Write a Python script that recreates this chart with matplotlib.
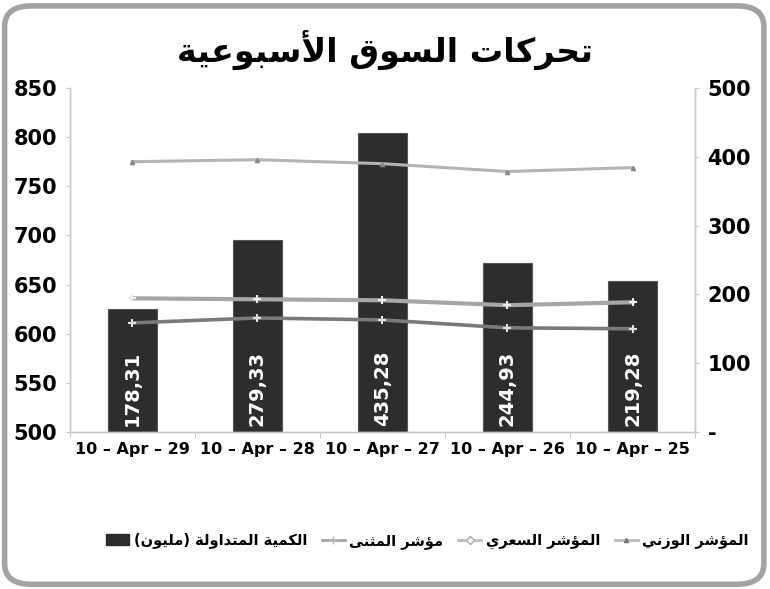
import matplotlib
matplotlib.use("Agg")
import matplotlib.pyplot as plt
import numpy as np
from matplotlib.patches import FancyBboxPatch
from matplotlib.lines import Line2D
from matplotlib.patches import Patch

#%% data

dates = ["10 – Apr – 29", "10 – Apr – 28", "10 – Apr – 27", "10 – Apr – 26", "10 – Apr – 25"]
volume = [178.31, 279.33, 435.28, 244.93, 219.28]
volume_labels = ["178,31", "279,33", "435,28", "244,93", "219,28"]
weighted_idx = [775, 777, 773, 765, 769]
price_idx = [636, 635, 634, 629, 632]
muthanna_idx = [611, 616, 614, 606, 605]

title = "تحركات السوق الأسبوعية"
lbl_weighted = "المؤشر الوزني"
lbl_price = "المؤشر السعري"
lbl_muthanna = "مؤشر المثنى"
lbl_volume = "الكمية المتداولة (مليون)"

left_ticks = [500, 550, 600, 650, 700, 750, 800, 850]
right_ticks = [0, 100, 200, 300, 400, 500]
right_ticklabels = ["-", "100", "200", "300", "400", "500"]

#%% tiny arabic shaper (no reshaper libs in the sandbox)

# letter: (base code of presentation form, number of forms)
FORMS = {
    'ء': (0xFE80, 1), 'آ': (0xFE81, 2), 'أ': (0xFE83, 2), 'ؤ': (0xFE85, 2),
    'إ': (0xFE87, 2), 'ئ': (0xFE89, 4), 'ا': (0xFE8D, 2), 'ب': (0xFE8F, 4),
    'ة': (0xFE93, 2), 'ت': (0xFE95, 4), 'ث': (0xFE99, 4), 'ج': (0xFE9D, 4),
    'ح': (0xFEA1, 4), 'خ': (0xFEA5, 4), 'د': (0xFEA9, 2), 'ذ': (0xFEAB, 2),
    'ر': (0xFEAD, 2), 'ز': (0xFEAF, 2), 'س': (0xFEB1, 4), 'ش': (0xFEB5, 4),
    'ص': (0xFEB9, 4), 'ض': (0xFEBD, 4), 'ط': (0xFEC1, 4), 'ظ': (0xFEC5, 4),
    'ع': (0xFEC9, 4), 'غ': (0xFECD, 4), 'ف': (0xFED1, 4), 'ق': (0xFED5, 4),
    'ك': (0xFED9, 4), 'ل': (0xFEDD, 4), 'م': (0xFEE1, 4), 'ن': (0xFEE5, 4),
    'ه': (0xFEE9, 4), 'و': (0xFEED, 2), 'ى': (0xFEEF, 2), 'ي': (0xFEF1, 4),
}
LAM_ALEF = {'ا': 0xFEFB, 'أ': 0xFEF7, 'آ': 0xFEF5, 'إ': 0xFEF9}


def shape(text):
    # merge lam + alef into ligature tokens
    toks = []
    i = 0
    while i < len(text):
        c = text[i]
        if c == 'ل' and i + 1 < len(text) and text[i + 1] in LAM_ALEF:
            toks.append(('LA', LAM_ALEF[text[i + 1]]))
            i += 2
        else:
            toks.append(('C', c))
            i += 1

    def nforms(t):
        if t[0] == 'LA':
            return 2
        return FORMS.get(t[1], (0, 0))[1]

    out = []
    for k, t in enumerate(toks):
        n = nforms(t)
        if n == 0:
            out.append(t[1])
            continue
        prev_join = k > 0 and nforms(toks[k - 1]) == 4 and n > 1
        next_join = n == 4 and k + 1 < len(toks) and nforms(toks[k + 1]) > 1
        base = t[1] if t[0] == 'LA' else FORMS[t[1]][0]
        if n == 1:
            out.append(chr(base))
        elif prev_join and next_join:
            out.append(chr(base + 3))
        elif prev_join:
            out.append(chr(base + 1))
        elif next_join:
            out.append(chr(base + 2))
        else:
            out.append(chr(base))
    vis = ''.join(out)[::-1]
    return vis.translate(str.maketrans('()', ')('))


#%% plot

plt.rcParams.update({'font.family': ['DejaVu Sans'], 'font.weight': 'bold'})

fig = plt.figure(figsize=(7.7, 5.89), dpi=100)
fig.patch.set_facecolor('white')

frame = FancyBboxPatch((0.006, 0.008), 0.986, 0.982, transform=fig.transFigure,
                       boxstyle="round,pad=0,rounding_size=0.035",
                       facecolor='white', edgecolor='#a3a3a3', linewidth=4,
                       zorder=-5)
fig.patches.append(frame)

fig.text(0.5, 0.915, shape(title), ha='center', va='center', fontsize=24,
         fontweight='bold', color='black')

ax = fig.add_axes([0.0909, 0.2666, 0.8117, 0.584])
ax2 = ax.twinx()

x = np.arange(len(dates))

# bars on the right axis
bars = ax2.bar(x, volume, width=0.39, color='#2d2d2d', edgecolor='#555555',
               linewidth=0.8, zorder=1)
for xi, lab in zip(x, volume_labels):
    ax2.text(xi, 8, lab, rotation=90, ha='center', va='bottom', color='white',
             fontsize=14, fontweight='bold', zorder=3)
ax2.set_ylim(0, 500)
ax2.set_yticks(right_ticks)
ax2.set_yticklabels(right_ticklabels, fontsize=15, fontweight='bold')

# index lines on the left axis, drawn in front of the bars
ax.set_zorder(ax2.get_zorder() + 1)
ax.patch.set_visible(False)
ax.plot(x, weighted_idx, color='#b4b4b4', lw=2.2, marker='^', ms=3,
        mfc='#888888', mec='#888888', label=shape(lbl_weighted))
ax.plot(x, price_idx, color='#a6a6a6', lw=3, marker='+', ms=6, mew=1.5,
        mec='#eeeeee', label=shape(lbl_price))
ax.plot(x, muthanna_idx, color='#7a7a7a', lw=2.6, marker='+', ms=6, mew=1.5,
        mec='#e0e0e0', label=shape(lbl_muthanna))
ax.set_ylim(500, 850)
ax.set_yticks(left_ticks)
ax.set_yticklabels([str(v) for v in left_ticks], fontsize=15, fontweight='bold')

ax.set_xlim(-0.5, len(dates) - 0.5)
ax.set_xticks(x)
ax.set_xticklabels(dates, fontsize=11.5, fontweight='bold')
ax.set_xticks(np.arange(-0.5, len(dates)), minor=True)
ax.tick_params(axis='x', which='major', length=0, pad=7)
ax.tick_params(axis='x', which='minor', length=4, color='#bbbbbb')

for a in (ax, ax2):
    for s in ('top',):
        a.spines[s].set_visible(False)
    for s in ('left', 'right', 'bottom'):
        a.spines[s].set_color('#c8c8c8')
        a.spines[s].set_linewidth(1.0)
ax.tick_params(axis='y', length=3, color='#c8c8c8', pad=6)
ax2.tick_params(axis='y', length=3, color='#c8c8c8', pad=6)

# legend across the bottom, symbol left of each label
handles = [
    Patch(facecolor='#2d2d2d', edgecolor='#2d2d2d'),
    Line2D([], [], color='#a6a6a6', lw=2, marker='+', ms=6, mec='#bbbbbb'),
    Line2D([], [], color='#bdbdbd', lw=2, marker='D', ms=4, mfc='white', mec='#aaaaaa'),
    Line2D([], [], color='#bdbdbd', lw=2, marker='^', ms=3, mfc='#777777', mec='#777777'),
]
labels = [shape(lbl_volume), shape(lbl_muthanna), shape(lbl_price), shape(lbl_weighted)]
fig.legend(handles, labels, loc='center', bbox_to_anchor=(0.555, 0.082), ncol=4,
           frameon=False, handlelength=1.6, handletextpad=0.3,
           columnspacing=1.0, prop={'weight': 'bold', 'size': 10.5})

fig.savefig('out.png', dpi=100)
